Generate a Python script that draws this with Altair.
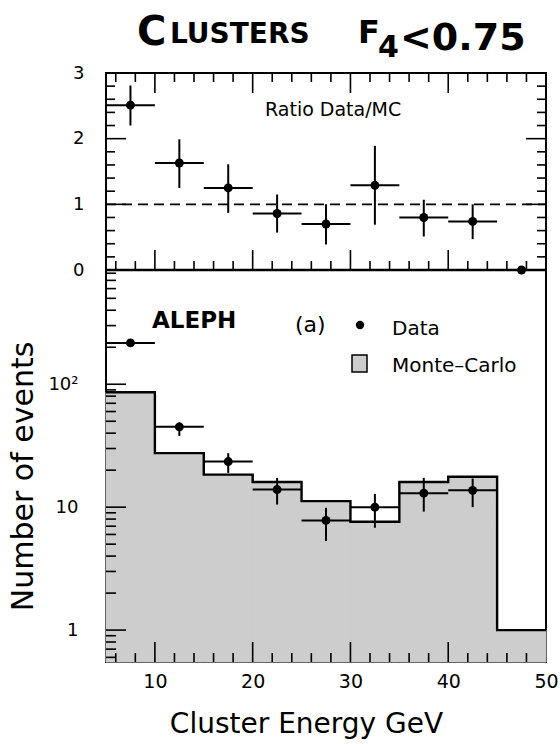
import altair as alt
import pandas as pd

# ---------------------------------------------------------------- data
# Cluster-energy bins (GeV)
bin_lo = [5, 10, 15, 20, 25, 30, 35, 40, 45]
bin_hi = [10, 15, 20, 25, 30, 35, 40, 45, 50]
bin_mid = [7.5, 12.5, 17.5, 22.5, 27.5, 32.5, 37.5, 42.5, 47.5]

# Monte-Carlo expectation per bin
mc_events = [86, 27.5, 18.4, 16.0, 11.2, 7.6, 16.0, 17.7, 1.0]

# Observed events (the 45-50 GeV bin is empty)
data_events = [217, 45, 23.5, 13.9, 7.8, 10.0, 13.0, 13.7]
data_low = [203, 38, 19.0, 10.5, 5.3, 6.8, 9.2, 10.0]
data_high = [231, 49, 27.5, 17.3, 9.9, 12.8, 17.3, 17.1]

# Data / MC ratio with its errors
ratio = [2.51, 1.63, 1.25, 0.86, 0.70, 1.29, 0.80, 0.74, 0.0]
ratio_low = [2.20, 1.25, 0.87, 0.57, 0.39, 0.69, 0.51, 0.47, 0.0]
ratio_high = [2.81, 1.99, 1.61, 1.15, 1.00, 1.89, 1.07, 1.00, 0.0]
unity_x = [5, 50]
unity_r = [1, 1]

# Tick positions
x_labels = [10, 20, 30, 40, 50]
x_major = [10, 20, 30, 40]
x_minor = [6, 8, 12, 14, 16, 18, 22, 24, 26, 28, 32, 34, 36, 38, 42, 44, 46, 48]
ratio_labels = [0, 1, 2, 3]
ratio_major = [1, 2]
ratio_minor = [0.2, 0.4, 0.6, 0.8, 1.2, 1.4, 1.6, 1.8, 2.2, 2.4, 2.6, 2.8]
log_major = [1, 10, 100]
log_minor = [0.6, 0.7, 0.8, 0.9, 2, 3, 4, 5, 6, 7, 8, 9,
             20, 30, 40, 50, 60, 70, 80, 90, 200, 300, 400, 500, 600, 700, 800]

# ---------------------------------------------------------------- layout
W, H = 440, 589          # whole plotting frame
TOP_H = 197              # height of the ratio panel
MAJOR, MINOR = 20, 9     # inward tick lengths
FONT = "DejaVu Sans"
FILL = "#cdcdcd"
LOG_MIN, LOG_MAX = 0.55, 850

xs = alt.Scale(domain=[5, 50], nice=False, zero=False)
rscale = alt.Scale(domain=[0, 3], range=[TOP_H, 0], nice=False, zero=False)
lscale = alt.Scale(type="log", domain=[LOG_MIN, LOG_MAX], range=[H, TOP_H], nice=False)

mc_df = pd.DataFrame({"lo": bin_lo, "hi": bin_hi, "mc": mc_events})

step_e, step_v = [], []
for lo, hi, v in zip(bin_lo, bin_hi, mc_events):
    step_e += [lo, hi]
    step_v += [v, v]
step_df = pd.DataFrame({"e": step_e, "mc": step_v, "k": list(range(len(step_e)))})

n_data = len(data_events)
data_df = pd.DataFrame({"mid": bin_mid[:n_data], "lo": bin_lo[:n_data], "hi": bin_hi[:n_data],
                        "n": data_events, "nlo": data_low, "nhi": data_high})
ratio_df = pd.DataFrame({"mid": bin_mid, "lo": bin_lo, "hi": bin_hi,
                         "r": ratio, "rlo": ratio_low, "rhi": ratio_high})
unity_df = pd.DataFrame({"x": unity_x, "r": unity_r})


# ---------------------------------------------------------------- frame ticks (pointing inward)
def x_ticks(values, y_edge, length):
    return alt.Chart(pd.DataFrame({"v": values})).mark_rule(
        color="black", strokeWidth=1.6).encode(
        x=alt.X("v:Q", scale=xs, axis=None),
        y=alt.value(y_edge), y2=alt.value(y_edge + length))


def y_ticks(values, scale, x_edge, length):
    return alt.Chart(pd.DataFrame({"v": values})).mark_rule(
        color="black", strokeWidth=1.6).encode(
        y=alt.Y("v:Q", scale=scale, axis=None),
        x=alt.value(x_edge), x2=alt.value(x_edge + length))


ticks = [
    x_ticks(x_major, 0, MAJOR), x_ticks(x_minor, 0, MINOR),            # ratio top edge
    x_ticks(x_major, TOP_H, -MAJOR), x_ticks(x_minor, TOP_H, -MINOR),  # ratio bottom edge
    x_ticks(x_major, H, -MAJOR), x_ticks(x_minor, H, -MINOR),          # bottom edge
    y_ticks(ratio_major, rscale, 0, MAJOR), y_ticks(ratio_minor, rscale, 0, MINOR),
    y_ticks(ratio_major, rscale, W, -MAJOR), y_ticks(ratio_minor, rscale, W, -MINOR),
    y_ticks(log_major, lscale, 0, MAJOR), y_ticks(log_minor, lscale, 0, MINOR + 1),
]

# ---------------------------------------------------------------- MC histogram
mc_fill = alt.Chart(mc_df).mark_rect(color=FILL, stroke=FILL, strokeWidth=1).encode(
    x=alt.X("lo:Q", scale=xs, axis=alt.Axis(
        orient="bottom", values=x_labels, ticks=False, domain=False, grid=False,
        labelPadding=10, labelFont=FONT, labelFontSize=19, labelColor="black",
        labelFlush=False, labelOverlap=False, format="d",
        title="Cluster Energy GeV", titleFont=FONT, titleFontSize=28,
        titleFontWeight="normal", titleColor="black",
        titleX=200, titleY=70, titleAlign="center", titleBaseline="alphabetic")),
    x2="hi:Q",
    y=alt.Y("mc:Q", scale=lscale, axis=alt.Axis(
        orient="left", values=log_major, ticks=False, domain=False, grid=False,
        labelPadding=28, labelFont=FONT, labelFontSize=18, labelColor="black",
        labelFlush=False, labelOverlap=False,
        labelExpr="datum.value == 100 ? '10²' : format(datum.value, 'd')",
        title="Number of events", titleFont=FONT, titleFontSize=30,
        titleFontWeight="normal", titleColor="black", titleAngle=270,
        titleX=-83, titleY=403, titleAlign="center", titleBaseline="middle")),
    y2=alt.datum(LOG_MIN),
)

mc_line = alt.Chart(step_df).mark_line(color="black", strokeWidth=2.4).encode(
    x=alt.X("e:Q", scale=xs, axis=None),
    y=alt.Y("mc:Q", scale=lscale, axis=None),
    order="k:Q",
)

# ---------------------------------------------------------------- data points
data_h = alt.Chart(data_df).mark_rule(color="black", strokeWidth=2).encode(
    x=alt.X("lo:Q", scale=xs, axis=None), x2="hi:Q",
    y=alt.Y("n:Q", scale=lscale, axis=None),
)
data_v = alt.Chart(data_df).mark_rule(color="black", strokeWidth=2).encode(
    x=alt.X("mid:Q", scale=xs, axis=None),
    y=alt.Y("nlo:Q", scale=lscale, axis=None), y2="nhi:Q",
)
data_pts = alt.Chart(data_df).mark_circle(color="black", size=80, opacity=1).encode(
    x=alt.X("mid:Q", scale=xs, axis=None),
    y=alt.Y("n:Q", scale=lscale, axis=None),
)

# ---------------------------------------------------------------- ratio panel
ratio_h = alt.Chart(ratio_df).mark_rule(color="black", strokeWidth=2).encode(
    x=alt.X("lo:Q", scale=xs, axis=None), x2="hi:Q",
    y=alt.Y("r:Q", scale=rscale, axis=alt.Axis(
        orient="left", values=ratio_labels, ticks=False, domain=False, grid=False,
        labelPadding=22, labelFont=FONT, labelFontSize=18, labelColor="black",
        labelFlush=False, labelOverlap=False, format="d", title=None)),
)
ratio_v = alt.Chart(ratio_df).mark_rule(color="black", strokeWidth=2).encode(
    x=alt.X("mid:Q", scale=xs, axis=None),
    y=alt.Y("rlo:Q", scale=rscale, axis=None), y2="rhi:Q",
)
ratio_pts = alt.Chart(ratio_df).mark_circle(color="black", size=80, opacity=1).encode(
    x=alt.X("mid:Q", scale=xs, axis=None),
    y=alt.Y("r:Q", scale=rscale, axis=None),
)
unity = alt.Chart(unity_df).mark_line(color="black", strokeWidth=1.8,
                                      strokeDash=[10, 6]).encode(
    x=alt.X("x:Q", scale=xs, axis=None),
    y=alt.Y("r:Q", scale=rscale, axis=None),
)
divider = alt.Chart(pd.DataFrame({"r": [0]})).mark_rule(color="black", strokeWidth=2.5).encode(
    y=alt.Y("r:Q", scale=rscale, axis=None),
)


# ---------------------------------------------------------------- annotations
def label(text, x, y, size, weight="normal", font=FONT):
    return alt.Chart(pd.DataFrame({"t": [text]})).mark_text(
        font=font, fontSize=size, fontWeight=weight, color="black",
        align="left", baseline="alphabetic",
    ).encode(text="t:N", x=alt.value(x), y=alt.value(y))


title_parts = [
    label("C", 31, -28, 40, "bold"),
    label("LUSTERS", 64, -30, 28, "bold"),
    label("F", 252, -30, 32, "bold"),
    label("4", 272, -16, 30, "bold"),
    label("<0.75", 294, -23, 38, "bold"),
]

ratio_text = label("Ratio Data/MC", 159, 43, 19)
aleph = label("ALEPH", 46, 255, 23, "bold")
panel_tag = label("(a)", 189, 259, 22)
data_key = alt.Chart(pd.DataFrame({"t": ["Data"]})).mark_circle(
    color="black", size=70, opacity=1).encode(x=alt.value(254), y=alt.value(252))
data_text = label("Data", 286, 262, 20)
mc_key = alt.Chart(pd.DataFrame({"t": ["Monte–Carlo"]})).mark_rect(
    fill=FILL, stroke="black", strokeWidth=1.5).encode(
    x=alt.value(246), x2=alt.value(261), y=alt.value(282), y2=alt.value(299))
mc_text = label("Monte–Carlo", 286, 299, 20)

chart = alt.layer(
    mc_fill, *ticks, mc_line, data_h, data_v, data_pts,
    ratio_h, ratio_v, ratio_pts, unity, divider,
    ratio_text, aleph, panel_tag, data_key, data_text, mc_key, mc_text,
    *title_parts,
).resolve_scale(
    y="independent"
).resolve_axis(
    x="independent", y="independent"
).properties(
    width=W, height=H,
    autosize=alt.AutoSizeParams(type="none"),
    padding={"left": 106, "top": 73, "right": 14, "bottom": 82},
    background="white",
).configure_view(
    stroke="black", strokeWidth=2, fill="white"
)

chart.save("out.html", embed_options={"renderer": "svg", "actions": False})
